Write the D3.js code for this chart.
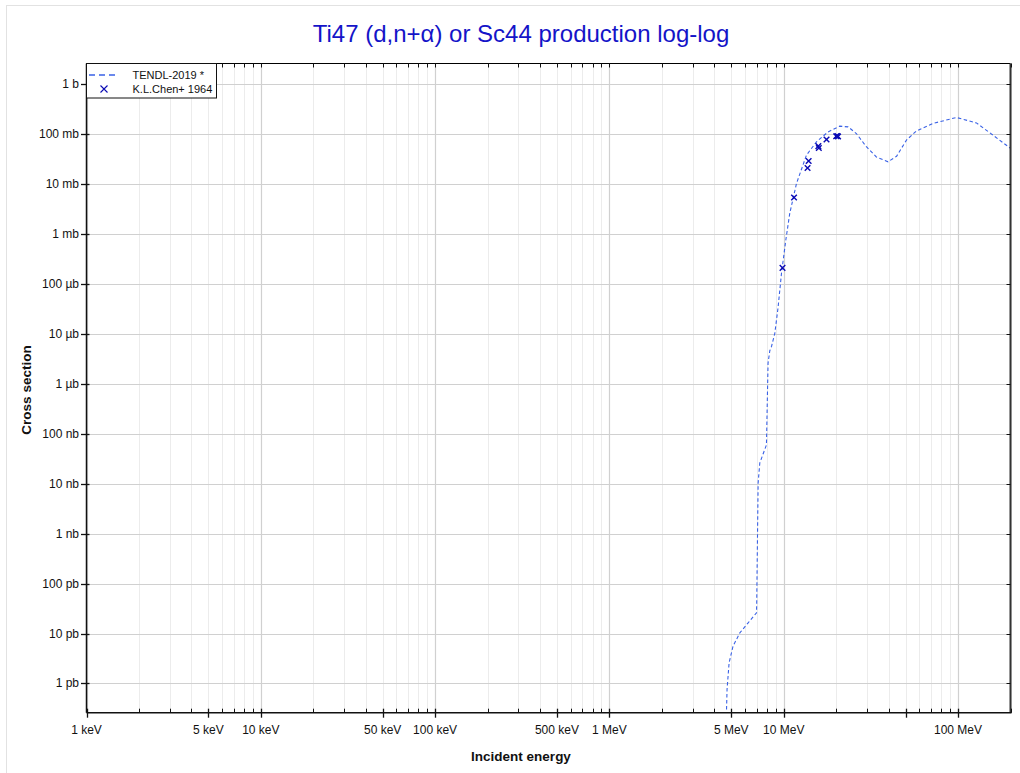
<!DOCTYPE html>
<html>
<head>
<meta charset="utf-8">
<script src="https://cdn.jsdelivr.net/npm/d3@7"></script>
<style>
  html, body { margin: 0; padding: 0; background: #fff; }
  svg { display: block; font-family: "Liberation Sans", Arial, sans-serif; }
</style>
</head>
<body>
<svg id="chart" width="1020" height="773"></svg>
<script>
// ---- data (energies in MeV, cross sections in barns) ----
const tendlE = [4.66, 4.73, 4.86, 5.12, 5.60, 6.25, 6.98, 7.00, 7.13, 7.29, 7.96, 8.13, 8.32, 8.51, 8.89, 9.29, 9.71, 10.28, 10.83, 11.84, 13.5, 15.4, 17.97, 20.97, 23.4, 26.1, 29.8, 34.0, 39.7, 44.4, 50.6, 57.7, 71.9, 97.9, 127.5, 158.8, 200];
const tendlXS = [1e-13, 7.6e-13, 2.6e-12, 5.6e-12, 1.03e-11, 1.64e-11, 2.6e-11, 4.1e-11, 1.03e-8, 2.6e-8, 6.0e-8, 2.6e-6, 4.6e-6, 5.6e-6, 1.03e-5, 3.5e-5, 1.64e-4, 7.6e-4, 2.6e-3, 0.0103, 0.038, 0.070, 0.111, 0.1445, 0.14, 0.103, 0.056, 0.035, 0.028, 0.036, 0.076, 0.116, 0.164, 0.216, 0.168, 0.0955, 0.052];

const chenE = [9.84, 11.46, 13.7, 13.9, 15.8, 15.9, 17.6, 20.0, 20.3, 20.5];
const chenXS = [2.1e-4, 5.4e-3, 0.021, 0.029, 0.0575, 0.053, 0.078, 0.091, 0.092, 0.090];

const xTickValues = [1e-3, 5e-3, 1e-2, 5e-2, 0.1, 0.5, 1, 5, 10, 100];
const xTickLabels = ["1 keV", "5 keV", "10 keV", "50 keV", "100 keV", "500 keV", "1 MeV", "5 MeV", "10 MeV", "100 MeV"];
const yTickValues = [1, 0.1, 0.01, 1e-3, 1e-4, 1e-5, 1e-6, 1e-7, 1e-8, 1e-9, 1e-10, 1e-11, 1e-12];
const yTickLabels = ["1 b", "100 mb", "10 mb", "1 mb", "100 µb", "10 µb", "1 µb", "100 nb", "10 nb", "1 nb", "100 pb", "10 pb", "1 pb"];

const titleText = "Ti47 (d,n+α) or Sc44 production log-log";
const seriesNames = ["TENDL-2019 *", "K.L.Chen+ 1964"];

// ---- layout ----
const svg = d3.select("#chart");
const L = 86.5, R = 1010.5, T = 63.5, B = 712.7;

const x = d3.scaleLog().domain([1e-3, 200]).range([L, R]);
const y = d3.scaleLog().domain([2.6e-13, 2.6]).range([B, T]);

// page border (light)
svg.append("line").attr("x1", 6.5).attr("x2", 6.5).attr("y1", 5).attr("y2", 773).attr("stroke", "#e2e2e2");
svg.append("line").attr("x1", 6).attr("x2", 1020).attr("y1", 5.5).attr("y2", 5.5).attr("stroke", "#e2e2e2");

// title
svg.append("text").attr("x", 521).attr("y", 42).attr("text-anchor", "middle")
  .attr("font-size", 24).attr("fill", "#1414c8").text(titleText);

// grid
const decades = d3.range(-3, 3).map(p => Math.pow(10, p));
const minorX = [];
decades.forEach(d => { for (let k = 2; k <= 9; k++) { const v = d * k; if (v <= 200) minorX.push(v); } });
const majorX = decades.filter(v => v <= 200);

const grid = svg.append("g");
grid.selectAll(".minx").data(minorX).join("line")
  .attr("x1", d => Math.round(x(d)) + 0.5).attr("x2", d => Math.round(x(d)) + 0.5)
  .attr("y1", T).attr("y2", B).attr("stroke", "#ececec").attr("stroke-width", 1);
grid.selectAll(".majx").data(majorX).join("line")
  .attr("x1", d => Math.round(x(d)) + 0.5).attr("x2", d => Math.round(x(d)) + 0.5)
  .attr("y1", T).attr("y2", B).attr("stroke", "#d0d0d0").attr("stroke-width", 1.2);
grid.selectAll(".majy").data(yTickValues).join("line")
  .attr("x1", L).attr("x2", R)
  .attr("y1", d => Math.round(y(d)) + 0.5).attr("y2", d => Math.round(y(d)) + 0.5)
  .attr("stroke", "#d0d0d0").attr("stroke-width", 1.2);

// clip
svg.append("clipPath").attr("id", "clip").append("rect")
  .attr("x", L).attr("y", T).attr("width", R - L).attr("height", B - T);

// TENDL curve
const tendl = tendlE.map((e, i) => [e, tendlXS[i]]);
svg.append("path").datum(tendl)
  .attr("clip-path", "url(#clip)")
  .attr("fill", "none").attr("stroke", "#3a62e6").attr("stroke-width", 1.1)
  .attr("stroke-dasharray", "3.5,2.5")
  .attr("d", d3.line().x(d => x(d[0])).y(d => y(d[1])));

// experimental points
const chen = chenE.map((e, i) => [e, chenXS[i]]);
const s = 2.8;
const pts = svg.append("g").attr("clip-path", "url(#clip)");
chen.forEach(d => {
  const cx = x(d[0]), cy = y(d[1]);
  pts.append("path")
    .attr("d", `M${cx - s},${cy - s}L${cx + s},${cy + s}M${cx - s},${cy + s}L${cx + s},${cy - s}`)
    .attr("stroke", "#0a0ab4").attr("stroke-width", 1.4).attr("fill", "none");
});

// axes frame
svg.append("line").attr("x1", L).attr("x2", R).attr("y1", T).attr("y2", T).attr("stroke", "#000").attr("stroke-width", 1);
svg.append("line").attr("x1", R).attr("x2", R).attr("y1", T).attr("y2", B).attr("stroke", "#333").attr("stroke-width", 2);
svg.append("line").attr("x1", L).attr("x2", R + 1).attr("y1", B).attr("y2", B).attr("stroke", "#111").attr("stroke-width", 1.5);
svg.append("line").attr("x1", L).attr("x2", L).attr("y1", T).attr("y2", B).attr("stroke", "#111").attr("stroke-width", 1.5);

// x ticks
const majorTickSet = majorX.concat([5e-3, 5e-2, 0.5, 5, 50]);
const allX = minorX.concat(majorX);
const ticks = svg.append("g").attr("stroke", "#111");
allX.forEach(v => {
  const px = Math.round(x(v)) + 0.5;
  const major = majorTickSet.some(m => Math.abs(m - v) / m < 1e-9);
  ticks.append("line").attr("x1", px).attr("x2", px)
    .attr("y1", B - 4).attr("y2", major ? B + 5 : B).attr("stroke-width", major ? 1.3 : 1);
  ticks.append("line").attr("x1", px).attr("x2", px)
    .attr("y1", T).attr("y2", T + 4).attr("stroke-width", 1);
});
// y ticks
yTickValues.forEach(v => {
  const py = Math.round(y(v)) + 0.5;
  ticks.append("line").attr("x1", L - 5.5).attr("x2", L + 3).attr("y1", py).attr("y2", py).attr("stroke-width", 1.3);
  ticks.append("line").attr("x1", R - 4).attr("x2", R).attr("y1", py).attr("y2", py).attr("stroke-width", 1);
});

// tick labels
svg.append("g").selectAll("text").data(xTickValues).join("text")
  .attr("x", d => x(d)).attr("y", B + 21).attr("text-anchor", "middle")
  .attr("font-size", 12).attr("fill", "#111").text((d, i) => xTickLabels[i]);
svg.append("g").selectAll("text").data(yTickValues).join("text")
  .attr("x", L - 7.5).attr("y", d => y(d) + 4).attr("text-anchor", "end")
  .attr("font-size", 12).attr("fill", "#111").text((d, i) => yTickLabels[i]);

// axis titles
svg.append("text").attr("x", 521).attr("y", 761).attr("text-anchor", "middle")
  .attr("font-size", 13.5).attr("font-weight", "bold").attr("fill", "#111").text("Incident energy");
svg.append("text").attr("transform", "translate(31,390) rotate(-90)").attr("text-anchor", "middle")
  .attr("font-size", 13.5).attr("font-weight", "bold").attr("fill", "#111").text("Cross section");

// legend
const lg = svg.append("g");
lg.append("rect").attr("x", L).attr("y", T).attr("width", 130).attr("height", 34.5)
  .attr("fill", "#fff").attr("stroke", "#111").attr("stroke-width", 1);
lg.append("line").attr("x1", 89).attr("x2", 118).attr("y1", 75).attr("y2", 75)
  .attr("stroke", "#3a62e6").attr("stroke-width", 1.5).attr("stroke-dasharray", "6,4");
lg.append("path").attr("d", `M${104 - 3.5},${89 - 3.5}L${104 + 3.5},${89 + 3.5}M${104 - 3.5},${89 + 3.5}L${104 + 3.5},${89 - 3.5}`)
  .attr("stroke", "#0a0ab4").attr("stroke-width", 1.1);
lg.append("text").attr("x", 132.5).attr("y", 78.5).attr("font-size", 11).attr("fill", "#111").text(seriesNames[0]);
lg.append("text").attr("x", 132.5).attr("y", 92.5).attr("font-size", 11).attr("fill", "#111").text(seriesNames[1]);
</script>
</body>
</html>
